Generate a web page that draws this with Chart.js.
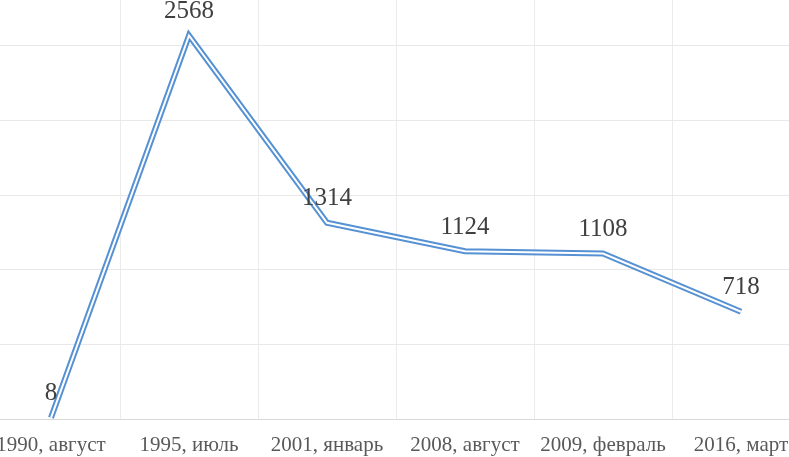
<!DOCTYPE html>
<html>
<head>
<meta charset="utf-8">
<script src="https://cdn.jsdelivr.net/npm/chart.js@4.4.1/dist/chart.umd.min.js"></script>
<style>
  html, body { margin: 0; padding: 0; background: #ffffff; overflow: hidden; width: 789px; height: 457px; }
  #wrap { position: absolute; left: -18px; top: -29px; width: 828px; height: 486px; }
</style>
</head>
<body>
<div id="wrap"><canvas id="c"></canvas></div>
<script>
const categories = ["1990, август", "1995, июль", "2001, январь", "2008, август", "2009, февраль", "2016, март"];
const values = [8, 2568, 1314, 1124, 1108, 718];
const yMin = 0;
const yMax = 3000;
const yStep = 500;

const labelPlugin = {
  id: 'pointLabels',
  afterDatasetsDraw(chart) {
    const ctx = chart.ctx;
    const meta = chart.getDatasetMeta(0);
    ctx.save();
    ctx.font = '25px "Liberation Serif"';
    ctx.fillStyle = '#404040';
    ctx.textAlign = 'center';
    ctx.textBaseline = 'middle';
    meta.data.forEach((el, i) => {
      ctx.fillText(String(values[i]), el.x, el.y - 24);
    });
    ctx.restore();
  }
};

new Chart(document.getElementById('c'), {
  type: 'line',
  data: {
    labels: categories,
    datasets: [
      { data: values, order: 2, borderColor: '#5591d3', borderWidth: 6, pointRadius: 0, pointHoverRadius: 0, fill: false, tension: 0, borderJoinStyle: 'miter', borderCapStyle: 'butt' },
      { data: values, order: 1, borderColor: '#ffffff', borderWidth: 2, pointRadius: 0, pointHoverRadius: 0, fill: false, tension: 0, borderJoinStyle: 'miter', borderCapStyle: 'butt' }
    ]
  },
  options: {
    responsive: true,
    maintainAspectRatio: false,
    animation: false,
    events: [],
    layout: { padding: 0 },
    plugins: { legend: { display: false }, tooltip: { enabled: false }, title: { display: false } },
    scales: {
      x: {
        offset: true,
        grid: { offset: true, color: '#ebebeb', lineWidth: 1, drawTicks: false },
        border: { display: true, color: '#d9d9d9', width: 1 },
        ticks: { autoSkip: false, maxRotation: 0, minRotation: 0, padding: 14, color: '#595959', font: { family: 'Liberation Serif', size: 21 } },
        afterFit(scale) { scale.height = 38; }
      },
      y: {
        min: yMin,
        max: yMax,
        grid: { color: '#e8e8e8', lineWidth: 1, drawTicks: false },
        border: { display: false },
        ticks: { display: false, stepSize: yStep },
        afterFit(scale) { scale.width = 0; }
      }
    }
  },
  plugins: [labelPlugin]
});
</script>
</body>
</html>
